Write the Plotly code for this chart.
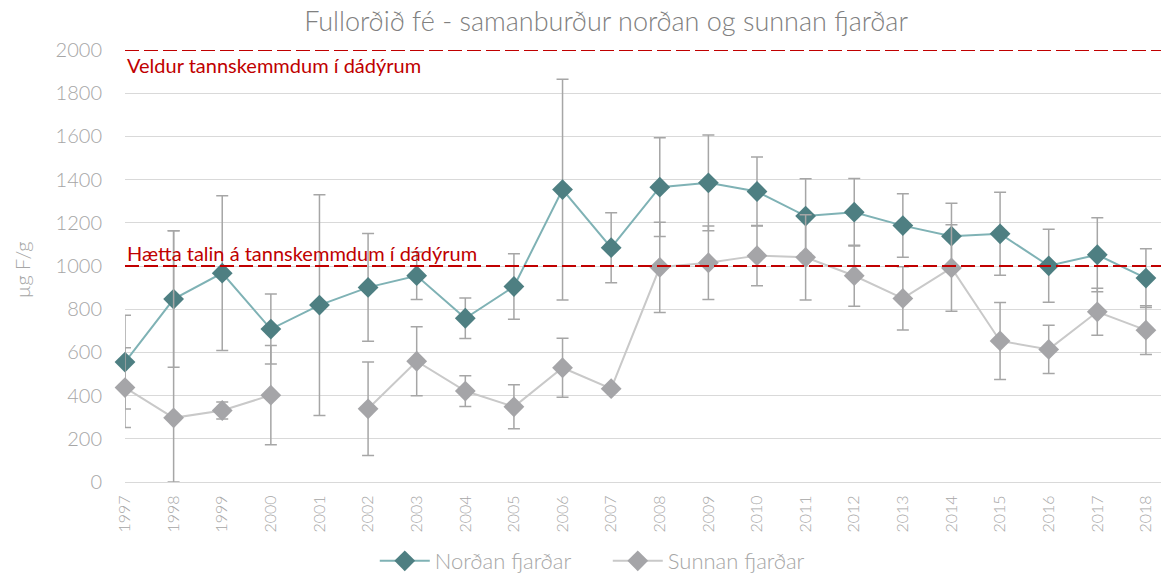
import plotly.graph_objects as go

# Fluoride in adult sheep, north vs. south of the fjord (µg F/g)
years = list(range(1997, 2019))
year_labels = [str(y) for y in years]

nordan = [555, 847, 967, 708, 819, 901, 955, 758, 905, 1354, 1085,
          1365, 1385, 1345, 1231, 1249, 1187, 1138, 1149, 1001, 1052, 944]
nordan_err = [217, 316, 358, 162, 511, 249, 110, 94, 152, 511, 162,
              229, 222, 160, 173, 156, 147, 153, 192, 169, 171, 136]

sunnan = [437, 297, 331, 402, None, 339, 559, 421, 348, 529, 432,
          994, 1015, 1048, 1040, 955, 850, 991, 653, 614, 788, 703]
sunnan_err_plus = [185, 866, 39, 230, None, 216, 160, 71, 102, 137, 15,
                   209, 170, 140, 197, 141, 146, 200, 178, 112, 109, 113]
sunnan_err_minus = [185, 297, 39, 230, None, 216, 160, 71, 102, 137, 15,
                    209, 170, 140, 197, 141, 146, 200, 178, 112, 109, 113]

thresholds = [1000, 2000]
threshold_labels = ["Hætta talin á tannskemmdum í dádýrum",
                    "Veldur tannskemmdum í dádýrum"]

FONT = "Lato"
GREY_TXT = "#A6A6A6"
ERR_COL = "#A6A6A6"
RED = "#C00000"

fig = go.Figure()

fig.add_trace(go.Scatter(
    x=years, y=nordan, name="Norðan fjarðar", mode="lines+markers",
    line=dict(color="#7FB2B5", width=2),
    marker=dict(symbol="diamond", size=16, color="#4E7F82"),
    error_y=dict(type="data", array=nordan_err, color=ERR_COL,
                 thickness=1.5, width=6),
    cliponaxis=False,
))

fig.add_trace(go.Scatter(
    x=years, y=sunnan, name="Sunnan fjarðar", mode="lines+markers",
    line=dict(color="#C9C9C9", width=2),
    marker=dict(symbol="diamond", size=16, color="#A5A5A8"),
    error_y=dict(type="data", symmetric=False, array=sunnan_err_plus,
                 arrayminus=sunnan_err_minus, color=ERR_COL,
                 thickness=1.5, width=6),
    connectgaps=False,
    cliponaxis=False,
))

# Threshold reference lines with their captions
for val in thresholds:
    fig.add_shape(type="line", xref="paper", x0=0, x1=1, yref="y", y0=val, y1=val,
                  line=dict(color=RED, width=2, dash="14px,5px"), layer="above")

fig.add_annotation(xref="paper", x=0, yref="y", y=thresholds[1], yshift=-15,
                   text=threshold_labels[1], showarrow=False, xanchor="left",
                   yanchor="middle", font=dict(family=FONT, size=20, color=RED))
fig.add_annotation(xref="paper", x=0, yref="y", y=thresholds[0], yshift=13,
                   text=threshold_labels[0], showarrow=False, xanchor="left",
                   yanchor="middle", font=dict(family=FONT, size=20, color=RED))

# Y-axis caption
fig.add_annotation(xref="paper", x=-0.0994, yref="paper", y=0.49,
                   text="µg F/g", textangle=-90, showarrow=False,
                   xanchor="center", yanchor="middle",
                   font=dict(family=FONT, size=20, color=GREY_TXT, weight=300))

fig.update_layout(
    width=1161, height=576,
    margin=dict(l=125, r=0, t=50, b=94, autoexpand=False),
    paper_bgcolor="white", plot_bgcolor="white",
    font=dict(family=FONT, color=GREY_TXT),
    title=dict(text="Fullorðið fé - samanburður norðan og sunnan fjarðar",
               x=0.522, xanchor="center", y=0.963, yanchor="middle",
               font=dict(family=FONT, size=27, color="#808080", weight=300)),
    showlegend=True,
    legend=dict(orientation="h", x=0.466, xanchor="center", y=-0.183,
                yanchor="middle",
                font=dict(family=FONT, size=22, color=GREY_TXT, weight=300),
                entrywidth=168, entrywidthmode="pixels",
                itemwidth=50, tracegroupgap=0),
    xaxis=dict(range=[1997, 2018.31], tickmode="array", tickvals=years,
               ticktext=year_labels, tickangle=-90, showgrid=False,
               zeroline=False, showline=True, linecolor="#D9D9D9",
               tickfont=dict(family=FONT, size=16, color=GREY_TXT, weight=300),
               ticks="", ticklabelstandoff=6, automargin=False),
    yaxis=dict(range=[0, 2000], tickvals=list(range(0, 2001, 200)),
               showgrid=True, gridcolor="#D9D9D9", gridwidth=1,
               zeroline=False, showline=False,
               tickfont=dict(family=FONT, size=20, color=GREY_TXT, weight=300),
               ticks="", ticklabelstandoff=22, automargin=False),
)

fig.write_html("out.html")
